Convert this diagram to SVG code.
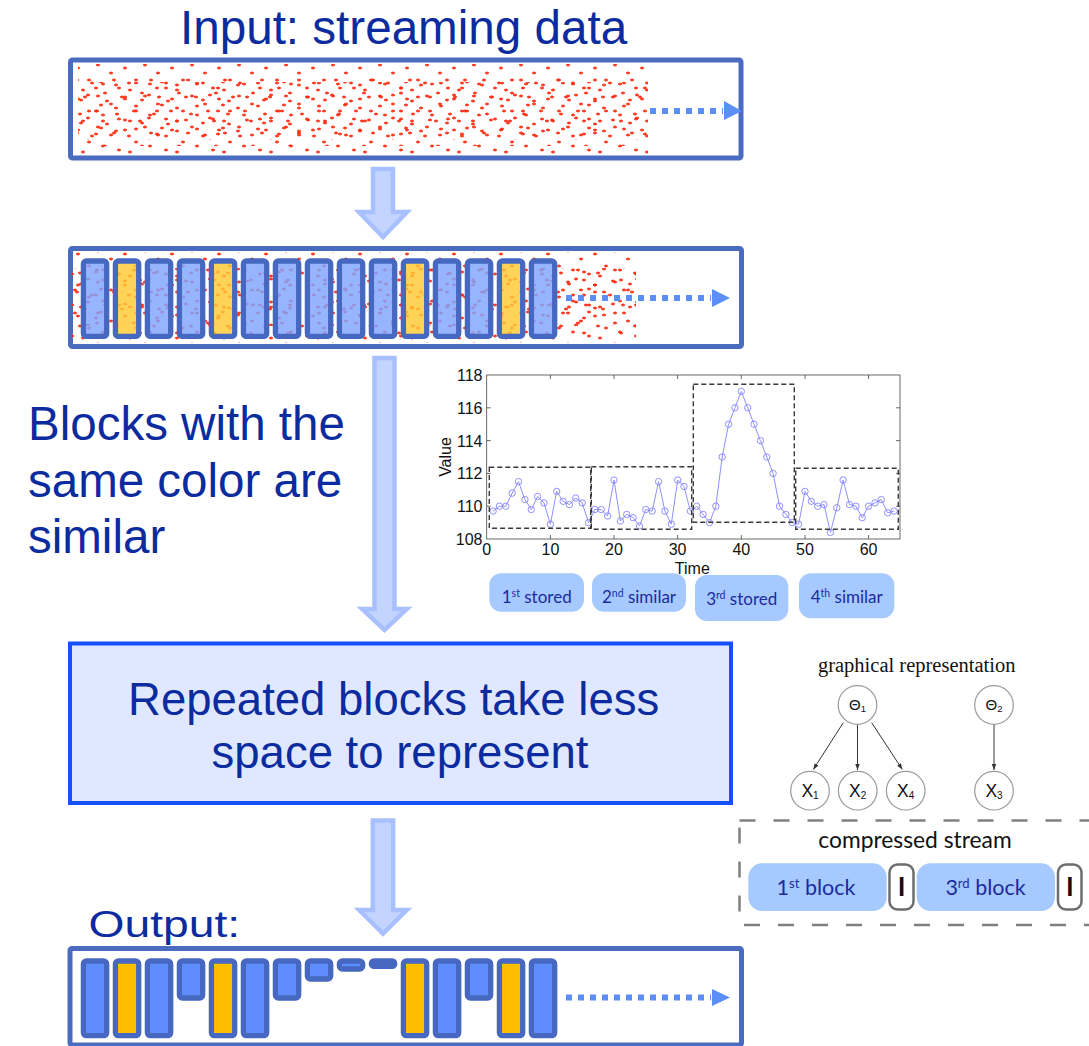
<svg xmlns="http://www.w3.org/2000/svg" width="1089" height="1046" viewBox="0 0 1089 1046">
<style>
.hd{font-family:"Liberation Sans",Arial,sans-serif;fill:#0c2b9e}
.frame{fill:none;stroke:#4a6cc0;stroke-width:5}
.blk{stroke:#4668c0;stroke-width:5.3}
.b{fill:#80a3ff;fill-opacity:.82}
.y{fill:#ffc933;fill-opacity:.82}
.ob{fill:#5d8dff}
.oy{fill:#ffbf00}
.flow{fill:none;stroke:#5b8ef7;stroke-width:6;stroke-dasharray:6 6}
.head{fill:#5b8ef7}
.big{fill:#c3d5ff;stroke:#a8c0ff;stroke-width:4.5}
.ax{font-family:"Liberation Sans",Arial,sans-serif;font-size:16px;fill:#111}
.sel{fill:none;stroke:#3a3a3a;stroke-width:1.4;stroke-dasharray:5 3}
.tag{fill:#a6c9ff}
.tt{font-family:Lato,"Open Sans",sans-serif;fill:#1b2b9e}
.gn{fill:#fff;stroke:#9a9a9a;stroke-width:1.2}
.gl{font-family:"Liberation Sans",Arial,sans-serif;fill:#111}
.sep{fill:#fff;stroke:#6e6e6e;stroke-width:2.5}
</style>
<defs>
  <!-- one sample of the stream: a small red cross -->
  <path id="dt" d="M-2 0H2M0-1.4V1.4" stroke="#ff2a10" stroke-width="1.3"/>
  <!-- three tiles with co-prime sizes so the overlay looks scattered -->
  <pattern id="pa" width="47" height="31" patternUnits="userSpaceOnUse">
    <use href="#dt" x="4" y="3"/><use href="#dt" x="17" y="11"/><use href="#dt" x="31" y="6"/><use href="#dt" x="42" y="18"/>
    <use href="#dt" x="9" y="22"/><use href="#dt" x="25" y="26"/><use href="#dt" x="36" y="28"/>
  </pattern>
  <pattern id="pb" width="61" height="23" patternUnits="userSpaceOnUse">
    <use href="#dt" x="3" y="5"/><use href="#dt" x="14" y="14"/><use href="#dt" x="27" y="3"/><use href="#dt" x="35" y="19"/>
    <use href="#dt" x="46" y="9"/><use href="#dt" x="55" y="16"/><use href="#dt" x="20" y="8"/><use href="#dt" x="40" y="13"/>
  </pattern>
  <pattern id="pc" width="37" height="53" patternUnits="userSpaceOnUse">
    <use href="#dt" x="6" y="8"/><use href="#dt" x="18" y="30"/><use href="#dt" x="29" y="15"/><use href="#dt" x="11" y="44"/>
    <use href="#dt" x="31" y="40"/><use href="#dt" x="23" y="5"/><use href="#dt" x="3" y="27"/>
  </pattern>
  <marker id="mk" viewBox="-4 -4 8 8" markerWidth="8" markerHeight="8" markerUnits="userSpaceOnUse">
    <circle r="3.2" fill="none" stroke="#8585ff" stroke-width="0.9"/>
  </marker>
  <marker id="ah" viewBox="0 0 8 8" refX="8" refY="4" markerWidth="6" markerHeight="6" orient="auto" markerUnits="userSpaceOnUse">
    <path d="M0,1 L8,4 L0,7 Z" fill="#333"/>
  </marker>
</defs>

<rect width="1089" height="1046" fill="#fff"/>

<!-- heading -->
<text id="title" class="hd" x="180" y="44" font-size="47.6">Input: streaming data</text>

<!-- raw stream -->
<g id="input-stream">
  <rect class="frame" x="70.5" y="60" width="670.5" height="98" rx="2"/>
  <rect x="78" y="64" width="570" height="90" fill="url(#pa)"/>
  <rect x="78" y="82" width="570" height="58" fill="url(#pb)"/>
  <rect x="78" y="72" width="570" height="74" fill="url(#pc)"/>
  <path class="flow" d="M650,111 H723"/>
  <path class="head" d="M724,101 L742,111 L724,120 Z"/>
</g>

<!-- big flow arrows -->
<g id="connectors">
  <path class="big" d="M373,169 H393 V212 H407 L383,237 L359,212 H373 Z"/>
  <path class="big" d="M374.5,358 H394.5 V609 H406.8 L384.5,630 L362.2,609 H374.5 Z"/>
  <path class="big" d="M372.8,820.5 H393.2 V910 H406.8 L383,933.5 L359.2,910 H372.8 Z"/>
</g>

<!-- stream cut into blocks -->
<g id="blocked-stream">
  <rect class="frame" x="70.5" y="248.5" width="671" height="98" rx="2"/>
  <rect x="72" y="252" width="564" height="91" fill="url(#pa)"/>
  <rect x="72" y="268" width="564" height="58" fill="url(#pb)"/>
  <rect x="72" y="260" width="564" height="75" fill="url(#pc)"/>
  <g class="blk">
    <rect class="b" x="83.4" y="261" width="23.3" height="75.4" rx="3"/>
    <rect class="y" x="115.4" y="261" width="23.3" height="75.4" rx="3"/>
    <rect class="b" x="147.4" y="261" width="23.3" height="75.4" rx="3"/>
    <rect class="b" x="179.4" y="261" width="23.3" height="75.4" rx="3"/>
    <rect class="y" x="211.4" y="261" width="23.3" height="75.4" rx="3"/>
    <rect class="b" x="243.4" y="261" width="23.3" height="75.4" rx="3"/>
    <rect class="b" x="275.4" y="261" width="23.3" height="75.4" rx="3"/>
    <rect class="b" x="307.4" y="261" width="23.3" height="75.4" rx="3"/>
    <rect class="b" x="339.4" y="261" width="23.3" height="75.4" rx="3"/>
    <rect class="b" x="371.4" y="261" width="23.3" height="75.4" rx="3"/>
    <rect class="y" x="403.4" y="261" width="23.3" height="75.4" rx="3"/>
    <rect class="b" x="435.4" y="261" width="23.3" height="75.4" rx="3"/>
    <rect class="b" x="467.4" y="261" width="23.3" height="75.4" rx="3"/>
    <rect class="y" x="499.4" y="261" width="23.3" height="75.4" rx="3"/>
    <rect class="b" x="531.4" y="261" width="23.3" height="75.4" rx="3"/>
  </g>
  <path class="flow" d="M566,298 H711"/>
  <path class="head" d="M712,289 L730,298 L712,307 Z"/>
</g>

<!-- caption -->
<text id="caption" class="hd" font-size="47.5">
  <tspan x="28" y="440">Blocks with the</tspan>
  <tspan x="28" y="497">same color are</tspan>
  <tspan x="28" y="553">similar</tspan>
</text>

<!-- time series plot -->
<g id="chart">
  <rect x="486.7" y="375" width="413.3" height="164" fill="#fff" stroke="#444" stroke-width="0.8"/>
  <g stroke="#444" stroke-width="0.8">
    <path d="M486.7,506.2h4M486.7,473.4h4M486.7,440.6h4M486.7,407.8h4M900,506.2h-4M900,473.4h-4M900,440.6h-4M900,407.8h-4"/>
    <path d="M550.4,539v-4M614,539v-4M677.6,539v-4M741.3,539v-4M805,539v-4M868.6,539v-4M550.4,375v4M614,375v4M677.6,375v4M741.3,375v4M805,375v4M868.6,375v4"/>
  </g>
  <g class="ax" text-anchor="end">
    <text x="482.5" y="381">118</text>
    <text x="482.5" y="413.8">116</text>
    <text x="482.5" y="446.6">114</text>
    <text x="482.5" y="479.4">112</text>
    <text x="482.5" y="512.2">110</text>
    <text x="482.5" y="545">108</text>
  </g>
  <g class="ax" text-anchor="middle">
    <text x="486.7" y="555">0</text>
    <text x="550.4" y="555">10</text>
    <text x="614" y="555">20</text>
    <text x="677.6" y="555">30</text>
    <text x="741.3" y="555">40</text>
    <text x="805" y="555">50</text>
    <text x="868.6" y="555">60</text>
    <text x="692.3" y="573.5">Time</text>
    <text transform="translate(451,457) rotate(-90)">Value</text>
  </g>
  <polyline fill="none" stroke="#8f8fff" stroke-width="1" marker-start="url(#mk)" marker-mid="url(#mk)" marker-end="url(#mk)"
    points="493.1,511.1 499.4,506.2 505.8,506.2 512.2,493.1 518.5,481.6 524.9,499.6 531.3,509.5 537.6,496.4 544,502.9 550.4,524.2 556.7,491.4 563.1,501.3 569.4,504.6 575.8,498 582.2,502.9 588.5,522.6 594.9,509.5 601.3,509.5 607.6,516 614,480 620.4,521 626.7,514.4 633.1,517.7 639.5,525.9 645.8,509.5 652.2,511.1 658.6,481.6 664.9,511.1 671.3,524.2 677.7,480 684,486.5 690.4,511.1 696.7,506.2 703.1,514.4 709.5,522.6 715.8,506.2 722.2,457 728.6,424.2 734.9,407.8 741.3,391.4 747.7,407.8 754,424.2 760.4,440.6 766.8,457 773.1,473.4 779.5,506.2 785.9,514.4 792.2,522.6 798.6,524.2 805,491.4 811.3,501.3 817.7,506.2 824,504.6 830.4,532.4 836.8,507.8 843.1,480 849.5,504.6 855.9,506.2 862.2,517.7 868.6,506.2 875,502.9 881.3,499.6 887.7,512.8 894.1,511.1"/>
  <rect class="sel" x="489.3" y="467.3" width="101.4" height="61"/>
  <rect class="sel" x="591.3" y="466.7" width="100.4" height="62.6"/>
  <rect class="sel" x="693.3" y="384.3" width="101" height="138"/>
  <rect class="sel" x="795.7" y="468.3" width="102.6" height="61"/>
</g>

<!-- block labels under the plot -->
<g id="chart-labels">
  <rect class="tag" x="489.3" y="573.3" width="94.7" height="38.4" rx="12"/>
  <rect class="tag" x="592" y="573.3" width="94" height="38.4" rx="12"/>
  <rect class="tag" x="695" y="575" width="93.3" height="46" rx="12"/>
  <rect class="tag" x="799" y="573.3" width="95.3" height="45" rx="12"/>
  <g class="tt" font-size="17" text-anchor="middle">
    <text x="536.7" y="603">1<tspan font-size="10.5" dy="-6">st</tspan><tspan dy="6"> stored</tspan></text>
    <text x="639" y="603">2<tspan font-size="10.5" dy="-6">nd</tspan><tspan dy="6"> similar</tspan></text>
    <text x="741.7" y="605">3<tspan font-size="10.5" dy="-6">rd</tspan><tspan dy="6"> stored</tspan></text>
    <text x="846.7" y="603">4<tspan font-size="10.5" dy="-6">th</tspan><tspan dy="6"> similar</tspan></text>
  </g>
</g>

<!-- compression step -->
<g id="repeated-box">
  <rect x="70" y="643.5" width="661" height="159.5" fill="#dfe8ff" stroke="#1450ff" stroke-width="4"/>
  <text class="hd" font-size="45.5" text-anchor="middle">
    <tspan x="400" y="715">Repeated blocks take less</tspan>
    <tspan x="400" y="768">space to represent</tspan>
  </text>
</g>

<!-- graphical model -->
<text id="graph-title" x="916.7" y="671.5" font-family="'Liberation Serif','Times New Roman',serif" font-size="20.5" fill="#111" text-anchor="middle">graphical representation</text>
<g id="graph-edges" stroke="#333" stroke-width="1" marker-end="url(#ah)">
  <line x1="843.3" y1="722.7" x2="813.3" y2="769.5"/>
  <line x1="857.5" y1="725" x2="857.5" y2="770"/>
  <line x1="871.7" y1="722.7" x2="902.3" y2="769.5"/>
  <line x1="994" y1="725" x2="994" y2="770"/>
</g>
<g id="node-theta1"><circle class="gn" cx="857.5" cy="705" r="19.3"/><text class="gl" x="857.5" y="710" font-size="15" text-anchor="middle">Θ<tspan font-size="9.5" dy="2">1</tspan></text></g>
<g id="node-theta2"><circle class="gn" cx="994" cy="705" r="19.3"/><text class="gl" x="994" y="710" font-size="15" text-anchor="middle">Θ<tspan font-size="9.5" dy="2">2</tspan></text></g>
<g id="node-x1"><circle class="gn" cx="810" cy="790.7" r="19.3"/><text class="gl" x="810" y="797" font-size="17.5" text-anchor="middle">X<tspan font-size="10" dy="2">1</tspan></text></g>
<g id="node-x2"><circle class="gn" cx="857.7" cy="790.7" r="19.3"/><text class="gl" x="857.7" y="797" font-size="17.5" text-anchor="middle">X<tspan font-size="10" dy="2">2</tspan></text></g>
<g id="node-x4"><circle class="gn" cx="905.7" cy="790.7" r="19.3"/><text class="gl" x="905.7" y="797" font-size="17.5" text-anchor="middle">X<tspan font-size="10" dy="2">4</tspan></text></g>
<g id="node-x3"><circle class="gn" cx="994" cy="790.7" r="19.3"/><text class="gl" x="994" y="797" font-size="17.5" text-anchor="middle">X<tspan font-size="10" dy="2">3</tspan></text></g>

<!-- compressed stream -->
<g id="compressed-stream">
  <rect x="739.5" y="820.5" width="400" height="104.5" fill="none" stroke="#808080" stroke-width="2.5" stroke-dasharray="16 18"/>
  <text x="915" y="848.3" font-family="Lato,'Open Sans',sans-serif" font-size="22.8" fill="#111" text-anchor="middle">compressed stream</text>
  <rect class="tag" x="748.3" y="863.3" width="138.4" height="47.7" rx="14"/>
  <rect class="sep" x="889.5" y="864.5" width="24" height="45" rx="8"/>
  <rect class="tag" x="916.7" y="863.3" width="138.3" height="47.7" rx="14"/>
  <rect class="sep" x="1058" y="864.5" width="23.5" height="45" rx="8"/>
  <g class="tt" font-size="21.5" text-anchor="middle">
    <text x="816" y="895">1<tspan font-size="13" dy="-7">st</tspan><tspan dy="7"> block</tspan></text>
    <text x="985.5" y="895">3<tspan font-size="13" dy="-7">rd</tspan><tspan dy="7"> block</tspan></text>
  </g>
  <g font-family="Lato,'Open Sans',sans-serif" font-size="26" font-weight="bold" fill="#111" text-anchor="middle">
    <text x="901.5" y="896">I</text>
    <text x="1069.8" y="896">I</text>
  </g>
</g>

<!-- output -->
<text id="output-title" class="hd" font-size="37" transform="translate(88.5,937) scale(1.25,1)">Output:</text>
<g id="output">
  <rect class="frame" x="70" y="948.5" width="671.5" height="96.5" rx="2"/>
  <g class="blk">
    <rect class="ob" x="83.4" y="961" width="23.3" height="74.7" rx="3"/>
    <rect class="oy" x="115.4" y="961" width="23.3" height="74.7" rx="3"/>
    <rect class="ob" x="147.4" y="961" width="23.3" height="74.7" rx="3"/>
    <rect class="ob" x="179.4" y="961" width="23.3" height="37" rx="3"/>
    <rect class="oy" x="211.4" y="961" width="23.3" height="74.7" rx="3"/>
    <rect class="ob" x="243.4" y="961" width="23.3" height="74.7" rx="3"/>
    <rect class="ob" x="275.4" y="961" width="23.3" height="37" rx="3"/>
    <rect class="ob" x="307.4" y="961" width="23.3" height="18" rx="3"/>
    <rect class="ob" x="339.4" y="961" width="23.3" height="8" rx="3"/>
    <rect class="ob" x="371.4" y="961" width="23.3" height="5.4" rx="2.5"/>
    <rect class="oy" x="403.4" y="961" width="23.3" height="74.7" rx="3"/>
    <rect class="ob" x="435.4" y="961" width="23.3" height="74.7" rx="3"/>
    <rect class="ob" x="467.4" y="961" width="23.3" height="37" rx="3"/>
    <rect class="oy" x="499.4" y="961" width="23.3" height="74.7" rx="3"/>
    <rect class="ob" x="531.4" y="961" width="23.3" height="74.7" rx="3"/>
  </g>
  <path class="flow" d="M566,997.5 H711"/>
  <path class="head" d="M712,989 L730,997.5 L712,1006 Z"/>
</g>
</svg>
